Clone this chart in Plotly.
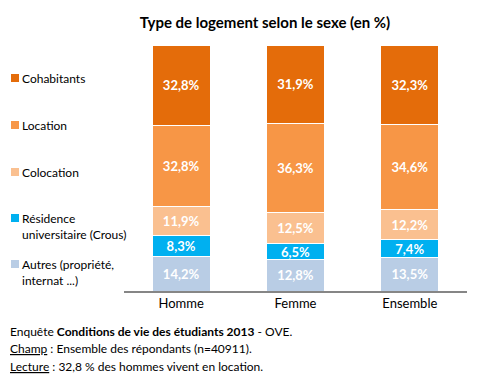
import plotly.graph_objects as go

categories = ["Homme", "Femme", "Ensemble"]
series_names = ["Autres (propriété,<br>internat ...)", "Résidence<br>universitaire (Crous)", "Colocation", "Location", "Cohabitants"]
autres = [14.2, 12.8, 13.5]
residence = [8.3, 6.5, 7.4]
colocation = [11.9, 12.5, 12.2]
location = [32.8, 36.3, 34.6]
cohabitants = [32.8, 31.9, 32.3]
colors = ["#B9CDE5", "#00B0F0", "#FAC090", "#F79646", "#E46C0A"]

series = [autres, residence, colocation, location, cohabitants]
FONT = "Lato, 'Open Sans', sans-serif"

fig = go.Figure()
for name, vals, col in zip(series_names, series, colors):
    fig.add_trace(go.Bar(
        x=categories, y=vals, name=name,
        marker=dict(color=col, line=dict(color="white", width=1)),
        text=[f"{v:.1f}%".replace(".", ",") for v in vals],
        textposition="inside", insidetextanchor="middle",
        textfont=dict(color="white", size=13, family=FONT),
        texttemplate="<b>%{text}</b>",
        showlegend=False,
        width=0.51,
    ))

legend_items = list(zip(series_names, colors))[::-1]
legend_pos = [78, 125, 172, 218, 264]  # pixel y of first text line
anns = []
shapes = []
H = 376
top_m, bot_m = 45, 85
plot_h = H - top_m - bot_m
L, PW = 124, 343
for (name, col), py in zip(legend_items, legend_pos):
    yp = (H - bot_m - py) / plot_h
    shapes.append(dict(type="rect", xref="paper", yref="paper",
                       x0=(11 - L) / PW, x1=(19 - L) / PW,
                       y0=yp - 4 / plot_h, y1=yp + 4 / plot_h,
                       fillcolor=col, line=dict(width=0)))
    anns.append(dict(text=name, xref="paper", yref="paper",
                     x=(20 - L) / PW, y=yp + 9 / plot_h,
                     xanchor="left", yanchor="top", align="left",
                     showarrow=False, font=dict(size=12, color="#000", family=FONT)))

footer = [
    "Enquête <b>Conditions de vie des étudiants 2013</b> - OVE.",
    "<span style='text-decoration:underline'>Champ</span> : Ensemble des répondants (n=40911).",
    "<span style='text-decoration:underline'>Lecture</span> : 32,8 % des hommes vivent en location.",
]
for i, t in enumerate(footer):
    py = 331 + i * 17.5
    anns.append(dict(text=t, xref="paper", yref="paper",
                     x=(8 - L) / PW, y=(H - bot_m - py) / plot_h,
                     xanchor="left", yanchor="middle", showarrow=False,
                     font=dict(size=12, color="#000", family=FONT)))

fig.update_layout(
    barmode="stack",
    width=504, height=376,
    margin=dict(l=L, r=504 - L - PW, t=top_m, b=bot_m),
    paper_bgcolor="white", plot_bgcolor="white",
    uniformtext=dict(minsize=13, mode="show"),
    title=dict(text="<b>Type de logement selon le sexe (en %)</b>",
               x=265 / 504, xanchor="center", y=1 - 23 / 376, yanchor="middle",
               font=dict(size=15, color="#000", family=FONT)),
    xaxis=dict(showline=True, linecolor="#868686", linewidth=1.5, ticks="",
               tickfont=dict(size=13, color="#000", family=FONT), showgrid=False),
    yaxis=dict(range=[0, 100], visible=False),
    annotations=anns, shapes=shapes,
    font=dict(family=FONT),
)
fig.write_html("out.html", config={"displayModeBar": False},
               post_script="document.body.style.margin='0';document.body.style.overflow='hidden';")
